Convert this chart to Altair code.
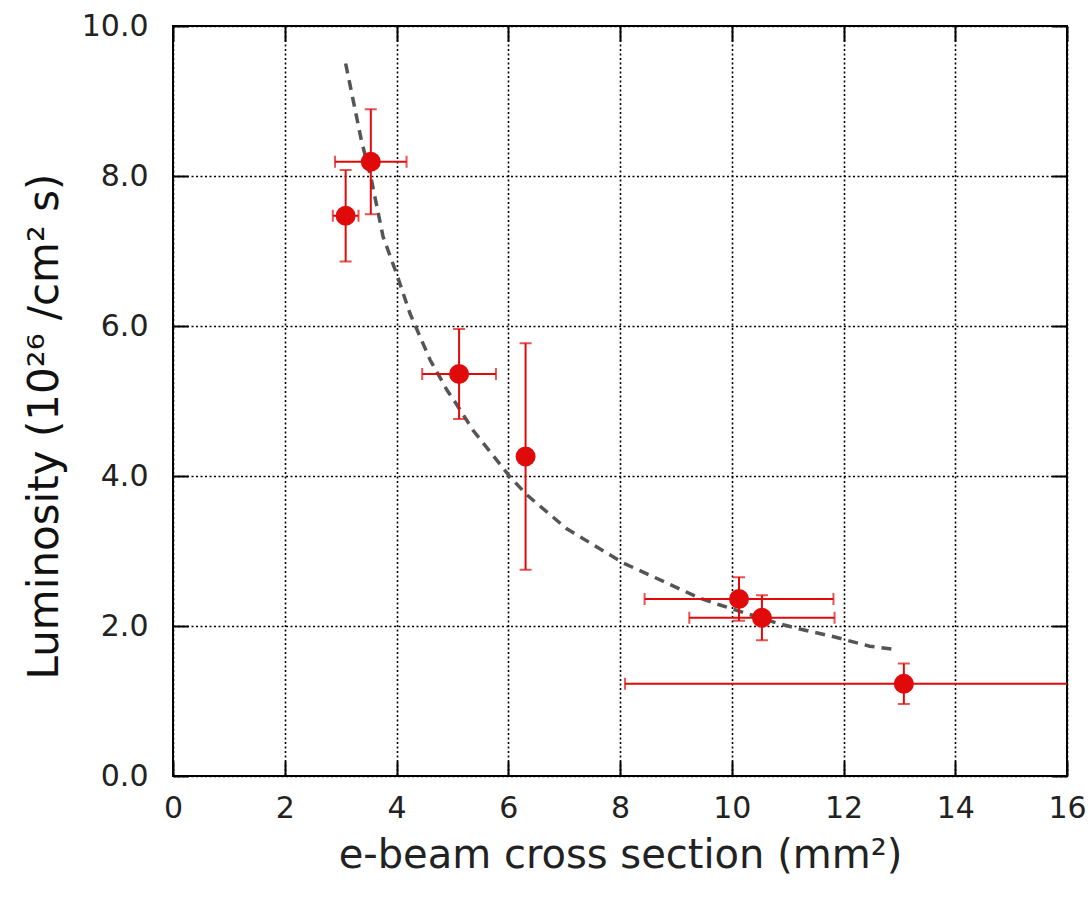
import altair as alt
import pandas as pd

# measured data points
pt_x = [3.09, 3.54, 5.12, 6.31, 10.13, 10.54, 13.08]
pt_y = [7.47, 8.19, 5.36, 4.26, 2.36, 2.11, 1.23]
pt_xerr = [0.23, 0.64, 0.66, 0.0, 1.69, 1.30, 4.99]
pt_yerr = [0.61, 0.70, 0.60, 1.51, 0.29, 0.30, 0.27]

# fitted curve (dashed)
fit_x = [3.09, 3.37, 3.55, 3.76, 4.00, 4.24, 4.60, 4.90, 5.08, 5.37, 6.03, 6.33,
         7.04, 8.06, 9.43, 9.79, 10.80, 11.16, 11.81, 12.47, 12.89]
fit_y = [9.50, 8.48, 7.95, 7.19, 6.70, 6.17, 5.55, 5.15, 4.95, 4.61, 3.99, 3.75,
         3.30, 2.84, 2.37, 2.28, 2.04, 1.97, 1.86, 1.73, 1.69]

x_ticks = [0, 2, 4, 6, 8, 10, 12, 14, 16]
y_ticks = [0, 2, 4, 6, 8, 10]

RED = "#e00a0a"
FONT = "DejaVu Sans"

pts = pd.DataFrame({"x": pt_x, "y": pt_y, "xerr": pt_xerr, "yerr": pt_yerr})
pts["xlo"] = pts.x - pts.xerr
pts["xhi"] = pts.x + pts.xerr
pts["ylo"] = pts.y - pts.yerr
pts["yhi"] = pts.y + pts.yerr
hx = pts[pts.xerr > 0]
fit = pd.DataFrame({"x": fit_x, "y": fit_y})

xs = alt.Scale(domain=[0, 16], nice=False, zero=False)
ys = alt.Scale(domain=[0, 10], nice=False, zero=False)

TS = 15

x_main = alt.Axis(orient="bottom", offset=-TS, tickSize=TS, tickWidth=2, tickColor="black",
                  values=x_ticks, format="d", labelPadding=17, labelFontSize=30,
                  labelFont=FONT, labelColor="#222", labelFlush=False,
                  grid=True, gridColor="black", gridDash=[2, 2.5], gridWidth=1.6,
                  title="e-beam cross section (mm²)", titleFontSize=40, titleFont=FONT,
                  titleFontWeight="normal", titleColor="#222", titlePadding=12, domain=False)
y_main = alt.Axis(orient="left", offset=-TS, tickSize=TS, tickWidth=2, tickColor="black",
                  values=y_ticks, format=".1f", labelPadding=25, labelFontSize=30,
                  labelFont=FONT, labelColor="#222", labelFlush=False,
                  grid=True, gridColor="black", gridDash=[2, 2.5], gridWidth=1.6,
                  title="Luminosity (10²⁶ /cm² s)", titleFontSize=42, titleFont=FONT,
                  titleFontWeight="normal", titleColor="#111", titlePadding=15,
                  titleY=400, domain=False)
x_top = alt.Axis(orient="top", offset=-TS, tickSize=TS, tickWidth=2, tickColor="black",
                 values=x_ticks, labels=False, grid=False, title=None, domain=False)
y_right = alt.Axis(orient="right", offset=-TS, tickSize=TS, tickWidth=2, tickColor="black",
                   values=y_ticks, labels=False, grid=False, title=None, domain=False)

curve = alt.Chart(fit).mark_line(color="#555555", strokeWidth=3.5, strokeDash=[10, 7]).encode(
    x=alt.X("x:Q", scale=xs, axis=x_main),
    y=alt.Y("y:Q", scale=ys, axis=y_main),
)

hrule = alt.Chart(hx).mark_rule(color=RED, strokeWidth=2, clip=True).encode(
    x=alt.X("xlo:Q", scale=xs, axis=None), x2="xhi:Q",
    y=alt.Y("y:Q", scale=ys, axis=None),
)
vrule = alt.Chart(pts).mark_rule(color=RED, strokeWidth=2, clip=True).encode(
    x=alt.X("x:Q", scale=xs, axis=None),
    y=alt.Y("ylo:Q", scale=ys, axis=None), y2="yhi:Q",
)
hcap_lo = alt.Chart(hx).mark_tick(color=RED, orient="vertical", size=12, thickness=2, clip=True).encode(
    x=alt.X("xlo:Q", scale=xs, axis=None), y=alt.Y("y:Q", scale=ys, axis=None))
hcap_hi = alt.Chart(hx).mark_tick(color=RED, orient="vertical", size=12, thickness=2, clip=True).encode(
    x=alt.X("xhi:Q", scale=xs, axis=None), y=alt.Y("y:Q", scale=ys, axis=None))
vcap_lo = alt.Chart(pts).mark_tick(color=RED, orient="horizontal", size=12, thickness=2, clip=True).encode(
    x=alt.X("x:Q", scale=xs, axis=None), y=alt.Y("ylo:Q", scale=ys, axis=None))
vcap_hi = alt.Chart(pts).mark_tick(color=RED, orient="horizontal", size=12, thickness=2, clip=True).encode(
    x=alt.X("x:Q", scale=xs, axis=None), y=alt.Y("yhi:Q", scale=ys, axis=None))

points = alt.Chart(pts).mark_circle(color=RED, opacity=1, size=400).encode(
    x=alt.X("x:Q", scale=xs, axis=x_top),
    y=alt.Y("y:Q", scale=ys, axis=y_right),
)

chart = alt.layer(curve, hrule, vrule, hcap_lo, hcap_hi, vcap_lo, vcap_hi, points).resolve_axis(
    x="independent", y="independent"
).properties(
    width=894, height=750,
    autosize=alt.AutoSizeParams(type="none"),
    padding={"left": 173, "top": 26, "right": 24, "bottom": 128},
    background="white",
).configure_view(stroke="black", strokeWidth=2)

chart.save("out.html", embed_options={"renderer": "svg", "actions": False})
